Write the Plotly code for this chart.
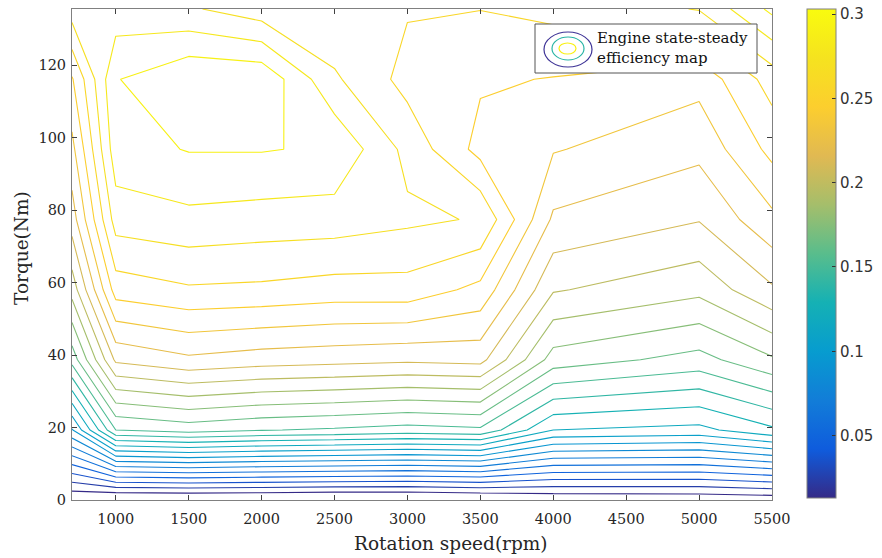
import plotly.graph_objects as go

# ---- data ----
speed_rpm = [700, 1000, 1500, 2000, 2500, 3000, 3500, 4000, 5000, 5500]
torque_nm = [0, 19.3, 38.7, 58.0, 77.4, 96.8, 116.1, 135.5]

# efficiency at each torque row (bottom -> top), one list per speed column
eff_700  = [0.0090, 0.0959, 0.1564, 0.1894, 0.2125, 0.2257, 0.2389, 0.2675]
eff_1000 = [0.0044, 0.1520, 0.2092, 0.2450, 0.2670, 0.2796, 0.2833, 0.2665]
eff_1500 = [0.0050, 0.1567, 0.2158, 0.2496, 0.2700, 0.2846, 0.2939, 0.2635]
eff_2000 = [0.0046, 0.1526, 0.2125, 0.2487, 0.2683, 0.2847, 0.2930, 0.2556]
eff_2500 = [0.0035, 0.1505, 0.2109, 0.2463, 0.2677, 0.2824, 0.2637, 0.2527]
eff_3000 = [0.0035, 0.1476, 0.2092, 0.2466, 0.2642, 0.2587, 0.2472, 0.2519]
eff_3500 = [0.0057, 0.1498, 0.2106, 0.2369, 0.2611, 0.2363, 0.2414, 0.2512]
eff_4000 = [0.0101, 0.1190, 0.1691, 0.1970, 0.2161, 0.2298, 0.2395, 0.2543]
eff_5000 = [0.0110, 0.1157, 0.1589, 0.1881, 0.2076, 0.2210, 0.2327, 0.2626]
eff_5500 = [0.0123, 0.1278, 0.1724, 0.2054, 0.2263, 0.2432, 0.2557, 0.2866]

eff_columns = [eff_700, eff_1000, eff_1500, eff_2000, eff_2500,
               eff_3000, eff_3500, eff_4000, eff_5000, eff_5500]

x_ticks = [1000, 1500, 2000, 2500, 3000, 3500, 4000, 4500, 5000, 5500]
y_ticks = [0, 20, 40, 60, 80, 100, 120]
cbar_ticks = [0.05, 0.1, 0.15, 0.2, 0.25, 0.3]
legend_lines = ["Engine state-steady", "efficiency map"]
x_title = "Rotation speed(rpm)"
y_title = "Torque(Nm)"

# z[row = torque][col = speed]
z = [[col[i] for col in eff_columns] for i in range(len(torque_nm))]

parula = [
    [0.0, "rgb(53,42,135)"], [0.1, "rgb(15,92,221)"], [0.2, "rgb(18,125,216)"],
    [0.3, "rgb(7,156,207)"], [0.4, "rgb(21,177,180)"], [0.5, "rgb(89,189,140)"],
    [0.6, "rgb(165,190,107)"], [0.7, "rgb(225,185,82)"], [0.8, "rgb(252,206,46)"],
    [0.9, "rgb(245,227,31)"], [1.0, "rgb(249,251,14)"],
]
zmin, zmax = 0.013, 0.303

fig = go.Figure()
fig.add_trace(go.Contour(
    x=speed_rpm, y=torque_nm, z=z,
    colorscale=parula, zmin=zmin, zmax=zmax,
    autocontour=False,
    contours=dict(start=0.02, end=0.30, size=0.011, coloring="lines"),
    line=dict(width=1.1, smoothing=0),
    showscale=False, hoverinfo="skip",
))
# continuous colour bar
fig.add_trace(go.Scatter(
    x=[None, None], y=[None, None], mode="markers",
    marker=dict(color=[zmin, zmax], colorscale=parula, cmin=zmin, cmax=zmax,
                showscale=True,
                colorbar=dict(
                    x=(807 - 72) / 700, xanchor="left", xref="paper", xpad=0, ypad=0,
                    y=(500 - 498) / 491, yanchor="bottom", len=489 / 491,
                    lenmode="fraction", thickness=29, thicknessmode="pixels",
                    outlinecolor="#808080", outlinewidth=1,
                    tickvals=cbar_ticks, ticktext=[str(v) for v in cbar_ticks],
                    ticklabeloverflow="allow",
                    ticks="inside", ticklen=4, tickcolor="#333333",
                    tickfont=dict(family="DejaVu Sans", size=15, color="#333333"),
                )),
    showlegend=False, hoverinfo="skip",
))

axis_common = dict(
    showgrid=False, zeroline=False, showline=True, linecolor="#808080", linewidth=1,
    mirror="ticks", ticks="inside", ticklen=5, tickcolor="#404040",
    tickfont=dict(family="DejaVu Serif", size=14.5, color="#262626"),
)
fig.update_xaxes(range=[700, 5500], tickvals=x_ticks, ticklabelstandoff=6, **axis_common)
fig.update_yaxes(range=[0, 135.5], tickvals=y_ticks, ticklabelstandoff=2, **axis_common)

def px(xp):
    return (xp - 72) / 700

def py(yp):
    return (500 - yp) / 491

# legend box drawn by hand (MATLAB-style contour legend icon)
shapes = [
    dict(type="rect", xref="paper", yref="paper", x0=px(535), x1=px(757), y0=py(73), y1=py(24),
         line=dict(color="#555555", width=1), fillcolor="white", layer="above"),
    dict(type="circle", xref="paper", yref="paper", x0=px(544), x1=px(592), y0=py(67), y1=py(32),
         line=dict(color="rgb(62,51,150)", width=1.2), layer="above"),
    dict(type="circle", xref="paper", yref="paper", x0=px(552), x1=px(584), y0=py(60), y1=py(37),
         line=dict(color="rgb(40,180,165)", width=1.2), layer="above"),
    dict(type="circle", xref="paper", yref="paper", x0=px(559), x1=px(576), y0=py(54), y1=py(43),
         line=dict(color="rgb(249,240,20)", width=1.2), layer="above"),
]
title_font = dict(family="DejaVu Serif", size=18.5, color="#262626")
annotations = [
    dict(xref="paper", yref="paper", x=px(595), y=py(48), xanchor="left", yanchor="middle",
         text="<br>".join(legend_lines), showarrow=False, align="left",
         font=dict(family="DejaVu Serif", size=15, color="#111111")),
    dict(xref="paper", yref="paper", x=px(451), y=py(543), xanchor="center", yanchor="middle",
         text=x_title, showarrow=False, font=title_font),
    dict(xref="paper", yref="paper", x=px(22), y=py(248), xanchor="center", yanchor="middle",
         text=y_title, textangle=-90, showarrow=False, font=title_font),
]

fig.update_layout(
    width=882, height=558,
    margin=dict(l=72, r=110, t=9, b=58, autoexpand=False),
    paper_bgcolor="white", plot_bgcolor="white",
    shapes=shapes, annotations=annotations, showlegend=False,
)

# remove the default 8 px page margin so the figure fills the window exactly
fig.write_html("out.html", config={"displayModeBar": False},
               post_script="document.body.style.margin='0px';")
